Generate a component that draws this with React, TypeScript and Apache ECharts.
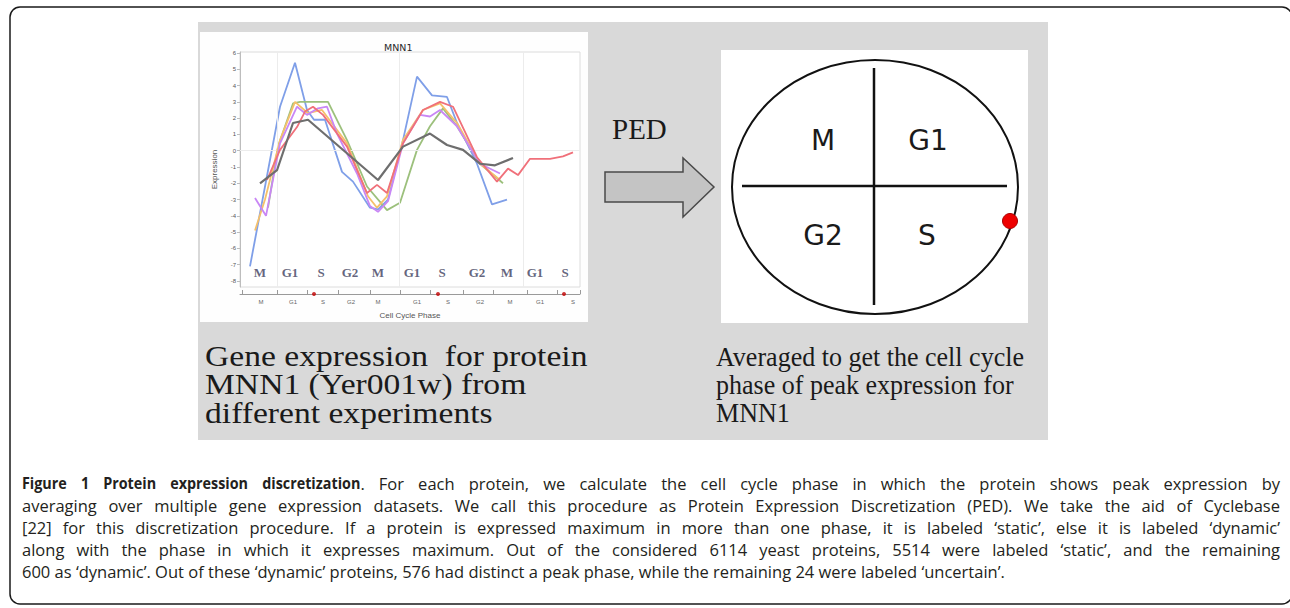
import React, { useEffect, useRef } from 'react';
import * as echarts from 'echarts';

// ---------- data ----------
const yTicks = [-8, -7, -6, -5, -4, -3, -2, -1, 0, 1, 2, 3, 4, 5, 6];

const blueSeries = [[1.0,-7.1],[4.0,2.7],[5.5,5.4],[6.7,2.5],[7.4,1.9],[8.5,1.9],[10.2,-1.3],[11.3,-1.9],[13.0,-3.5],[13.8,-3.6],[14.8,-3.0],[16.3,0.65],[17.7,4.55],[19.2,3.4],[20.7,3.3],[21.7,1.7],[23.7,-0.8],[25.2,-3.3],[26.7,-3.0]];
const greenSeries = [[2.8,-3.5],[3.8,0.25],[5.3,2.9],[6.0,3.0],[8.8,3.0],[10.7,0.65],[12.7,-2.2],[14.7,-3.65],[16.0,-3.2],[17.7,0.05],[19.0,1.5],[20.3,2.6],[21.7,1.5],[24.0,-0.8],[26.3,-2.0]];
const orangeSeries = [[1.5,-4.9],[2.5,-3.0],[4.0,0.65],[5.5,3.0],[6.8,2.3],[8.2,2.5],[10.7,0.45],[12.8,-2.8],[13.7,-3.5],[14.7,-2.8],[16.3,0.65],[18.3,2.5],[20.0,2.9],[21.7,1.7],[24.0,-0.8],[26.0,-1.8]];
const purpleSeries = [[1.5,-2.9],[2.6,-4.0],[4.0,0.45],[5.7,2.7],[6.7,2.2],[7.8,2.6],[8.7,2.7],[9.7,1.05],[11.7,-1.4],[13.0,-3.4],[13.8,-3.75],[14.8,-3.1],[16.3,0.45],[18.0,2.2],[19.0,2.1],[20.0,2.5],[21.7,1.5],[24.0,-0.8],[26.0,-1.4]];
const redSeries = [[2.7,-1.8],[4.0,0.05],[5.7,1.45],[6.5,2.4],[7.3,2.7],[8.3,2.2],[10.7,0.25],[12.7,-2.6],[13.7,-2.1],[14.7,-2.6],[16.3,0.45],[18.3,2.5],[20.0,3.0],[21.3,2.7],[23.7,-0.4],[25.7,-1.9],[26.8,-1.1],[27.8,-1.5],[29.0,-0.5],[31.0,-0.5],[32.3,-0.35],[33.3,-0.1]];
const graySeries = [[2.0,-2.0],[3.7,-1.2],[5.3,1.7],[6.8,1.9],[13.8,-1.8],[16.3,0.25],[19.0,1.05],[20.7,0.35],[22.3,0.05],[24.0,-0.8],[25.5,-0.9],[27.3,-0.45]];

const phaseLetters = ['M', 'G1', 'S', 'G2', 'M', 'G1', 'S', 'G2', 'M', 'G1', 'S'];
const phaseLetterX = [2.0, 5.0, 8.1, 11.0, 13.8, 17.2, 20.2, 23.7, 26.7, 29.5, 32.5];
const phaseAxisX = [2.1, 5.3, 8.3, 11.1, 13.8, 17.7, 20.8, 24.0, 27.0, 30.0, 33.3];
const bracketEdges = [0.2, 3.7, 6.7, 9.8, 13.0, 16.0, 19.0, 22.3, 25.3, 28.7, 31.7, 34.0];
const peakMarks = [7.4, 19.8, 32.4];
const gridLinesX = [3.7, 15.9, 28.3];

const leftLines = ['Gene expression  for protein', 'MNN1 (Yer001w) from', 'different experiments'];
const rightLines = ['Averaged to get the cell cycle', 'phase of peak expression for', 'MNN1'];
const wheelPhases = ['M', 'G1', 'G2', 'S'];

const captionBold = 'Figure 1 Protein expression discretization';
const captionLines = [
  'Figure 1 Protein expression discretization. For each protein, we calculate the cell cycle phase in which the protein shows peak expression by',
  'averaging over multiple gene expression datasets. We call this procedure as Protein Expression Discretization (PED). We take the aid of Cyclebase',
  '[22] for this discretization procedure. If a protein is expressed maximum in more than one phase, it is labeled \u2018static\u2019, else it is labeled \u2018dynamic\u2019',
  'along with the phase in which it expresses maximum. Out of the considered 6114 yeast proteins, 5514 were labeled \u2018static\u2019, and the remaining',
  '600 as \u2018dynamic\u2019. Out of these \u2018dynamic\u2019 proteins, 576 had distinct a peak phase, while the remaining 24 were labeled \u2018uncertain\u2019.',
];

const lineColors = ['#7f9fe8', '#9cc07c', '#f5c06a', '#c987f5', '#f0707a', '#6e6e6e'];

// ---------- helpers ----------
const CAP_FONT = '"Open Sans", "Noto Sans", sans-serif';
const CAP_SIZE = 16.5;
const BOLD_SCALE = 0.87;

function buildCaption(): any[] {
  const ctx = document.createElement('canvas').getContext('2d')!;
  const measure = (t: string, bold: boolean) => {
    ctx.font = `${bold ? 'bold' : 'normal'} ${CAP_SIZE}px "Open Sans"`;
    return ctx.measureText(t).width * (bold ? BOLD_SCALE : 1);
  };
  const left = 22;
  const right = 1280;
  const top = 483;
  const lh = 22;
  const els: any[] = [];
  captionLines.forEach((line, li) => {
    const words = line.split(' ');
    const boldLen = li === 0 ? captionBold.length : 0;
    let off = 0;
    const wordSegs = words.map((w) => {
      const start = off;
      off += w.length + 1;
      const segs: { t: string; b: boolean }[] = [];
      if (start + w.length <= boldLen) segs.push({ t: w, b: true });
      else if (start >= boldLen) segs.push({ t: w, b: false });
      else {
        const k = boldLen - start;
        segs.push({ t: w.slice(0, k), b: true });
        segs.push({ t: w.slice(k), b: false });
      }
      const width = segs.reduce((s, g) => s + measure(g.t, g.b), 0);
      return { segs, width };
    });
    const total = wordSegs.reduce((s, w) => s + w.width, 0);
    const justify = li < captionLines.length - 1;
    const gap = justify ? (right - left - total) / (words.length - 1) : measure(' ', false);
    let x = left;
    const y = top + li * lh;
    wordSegs.forEach((w) => {
      let sx = x;
      w.segs.forEach((g) => {
        els.push({
          type: 'text', x: sx, y, silent: true, scaleX: g.b ? BOLD_SCALE : 1,
          style: {
            text: g.t, fill: '#231f20', fontSize: CAP_SIZE, fontFamily: CAP_FONT,
            fontWeight: g.b ? 'bold' : 'normal', textAlign: 'left', align: 'left',
            textVerticalAlign: 'middle', verticalAlign: 'middle',
          },
        });
        sx += measure(g.t, g.b);
      });
      x += w.width + gap;
    });
  });
  return els;
}

function txt(x: number, y: number, text: string, size: number, family: string, extra: any = {}, scaleX = 1) {
  return {
    type: 'text', x, y, silent: true, scaleX,
    style: {
      text, fill: '#1a1a1a', fontSize: size, fontFamily: family,
      textAlign: 'left', align: 'left', textVerticalAlign: 'middle', verticalAlign: 'middle', ...extra,
    },
  };
}

function buildOption(): any {
  const serif = '"Liberation Serif", "Times New Roman", serif';
  const wheelFont = '"DejaVu Sans", sans-serif';
  const wheelPos = [[823, 140], [928, 140], [823, 235], [927, 235]];

  const graphics: any[] = [
    { type: 'rect', z: -10, silent: true, shape: { x: 10, y: 7, width: 1282, height: 597, r: 10 }, style: { fill: '#fff', stroke: '#1a1a1a', lineWidth: 1.5 } },
    { type: 'rect', z: -9, silent: true, shape: { x: 198, y: 22, width: 850, height: 418 }, style: { fill: '#d9d9d9' } },
    { type: 'rect', z: -8, silent: true, shape: { x: 200, y: 32, width: 388, height: 290 }, style: { fill: '#fefefe' } },
    { type: 'rect', z: -8, silent: true, shape: { x: 721, y: 50, width: 307, height: 273 }, style: { fill: '#fff' } },
    // arrow
    { type: 'polygon', silent: true, shape: { points: [[605, 172], [683, 172], [683, 158], [714, 187], [683, 217], [683, 202], [605, 202]] }, style: { fill: '#c4c4c4', stroke: '#4a4a4a', lineWidth: 1.5 } },
    txt(612, 129, 'PED', 29, serif),
    // wheel
    { type: 'ellipse', silent: true, shape: { cx: 875, cy: 187, rx: 143, ry: 127 }, style: { fill: 'none', stroke: '#111', lineWidth: 2 } },
    { type: 'line', silent: true, shape: { x1: 874, y1: 68, x2: 874, y2: 305 }, style: { stroke: '#111', lineWidth: 2.5 } },
    { type: 'line', silent: true, shape: { x1: 742, y1: 186, x2: 1007, y2: 186 }, style: { stroke: '#111', lineWidth: 2.5 } },
    ...wheelPhases.map((p, i) => txt(wheelPos[i][0], wheelPos[i][1], p, 28, wheelFont, { textAlign: 'center', align: 'center' })),
    { type: 'circle', silent: true, shape: { cx: 1010, cy: 221, r: 7.5 }, style: { fill: '#ee0000', stroke: '#aa0000', lineWidth: 1 } },
    // panel texts
    ...leftLines.map((t, i) => txt(205, 356 + i * 28.5, t, 30, serif, {}, 1.12)),
    ...rightLines.map((t, i) => txt(716, 357 + i * 28, t, 28, serif, {}, 0.93)),
    ...buildCaption(),
  ];

  const lineSeries = [blueSeries, greenSeries, orangeSeries, purpleSeries, redSeries, graySeries].map((d, i) => ({
    type: 'line',
    xAxisIndex: 0, yAxisIndex: 0,
    data: d,
    showSymbol: false,
    symbol: 'none',
    z: 3 + i,
    lineStyle: { color: lineColors[i], width: i === 5 ? 2.2 : 1.8 },
    ...(i === 0 ? {
      markLine: {
        silent: true, symbol: 'none', label: { show: false },
        lineStyle: { color: '#ececec', width: 1, type: 'solid' },
        data: [...gridLinesX.map((x) => ({ xAxis: x })), { yAxis: 0 }],
      },
    } : {}),
  }));

  return {
    animation: false,
    backgroundColor: '#fff',
    title: {
      text: 'MNN1', left: 379, top: 37,
      textStyle: { fontSize: 9.5, fontWeight: 'normal', color: '#2a2a2a', fontFamily: '"DejaVu Sans", sans-serif' },
    },
    graphic: graphics,
    grid: [
      { left: 240, top: 52, width: 340, height: 235, show: true, backgroundColor: '#fff', borderColor: '#dcdcdc', borderWidth: 1 },
      { left: 240, top: 285, width: 340, height: 9 },
    ],
    xAxis: [
      { gridIndex: 0, type: 'value', min: 0, max: 34, show: false },
      {
        gridIndex: 1, type: 'value', min: 0, max: 34,
        axisLine: { show: true, lineStyle: { color: '#9a9a9a', width: 1 } },
        axisTick: { show: true, inside: true, length: 4, customValues: bracketEdges, lineStyle: { color: '#9a9a9a' } },
        axisLabel: {
          show: true, customValues: phaseAxisX, fontSize: 6, color: '#666', margin: 5,
          formatter: (v: number) => { const k = phaseAxisX.indexOf(v); return k >= 0 ? phaseLetters[k] : ''; },
        },
        splitLine: { show: false },
        name: 'Cell Cycle Phase', nameLocation: 'middle', nameGap: 17,
        nameTextStyle: { fontSize: 8, color: '#555' },
      },
    ],
    yAxis: [
      {
        gridIndex: 0, type: 'value', min: -8.37, max: 6.06,
        axisLine: { show: true, lineStyle: { color: '#bdbdbd' } },
        axisTick: { show: true, length: 3, customValues: yTicks, lineStyle: { color: '#bdbdbd' } },
        axisLabel: { show: true, customValues: yTicks, fontSize: 6, color: '#555', margin: 4 },
        splitLine: { show: false },
        name: 'Expression', nameLocation: 'middle', nameGap: 22,
        nameTextStyle: { fontSize: 8, color: '#555' },
      },
      { gridIndex: 1, type: 'value', min: 0, max: 1, show: false },
    ],
    series: [
      ...lineSeries,
      {
        type: 'scatter', xAxisIndex: 0, yAxisIndex: 0, symbolSize: 1, itemStyle: { color: 'rgba(0,0,0,0)' },
        z: 10,
        data: phaseLetters.map((p, i) => ({ value: [phaseLetterX[i], -7.45], name: p })),
        label: {
          show: true, position: 'inside', formatter: (p: any) => p.name,
          fontFamily: '"Liberation Serif", serif', fontWeight: 'bold', fontSize: 13, color: '#3c3c5c',
        },
      },
      {
        type: 'scatter', xAxisIndex: 1, yAxisIndex: 1, symbolSize: 4, z: 10,
        itemStyle: { color: '#c00000' },
        data: peakMarks.map((x) => [x, 0]),
      },
    ],
  };
}

export default function App() {
  const ref = useRef<HTMLDivElement>(null);
  useEffect(() => {
    document.body.style.margin = '0';
    const chart = echarts.init(ref.current!, null, { renderer: 'svg' });
    chart.setOption(buildOption());
    return () => chart.dispose();
  }, []);
  return <div ref={ref} style={{ position: 'fixed', left: 0, top: 0, width: 1290, height: 608 }} />;
}
